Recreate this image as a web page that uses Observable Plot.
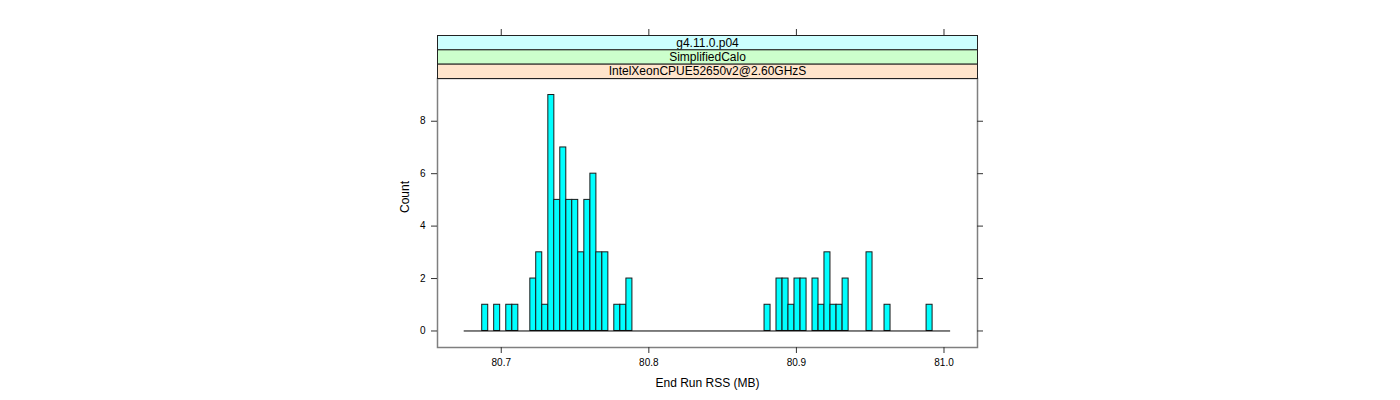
<!DOCTYPE html>
<html>
<head>
<meta charset="utf-8">
<script src="https://cdn.jsdelivr.net/npm/d3@7"></script>
<script src="https://cdn.jsdelivr.net/npm/@observablehq/plot@0.6"></script>
<style>
  html, body { margin: 0; padding: 0; background: #fff; }
  svg { display: block; font-family: "Liberation Sans", Arial, Helvetica, sans-serif; }
</style>
</head>
<body>
<div id="chart"></div>
<script>
// Histogram bins (lower edges, MB) and counts
const binLo = [80.6871, 80.6952, 80.7034, 80.7075, 80.7197, 80.7237, 80.7278, 80.7319, 80.7359, 80.7400,
               80.7441, 80.7481, 80.7522, 80.7563, 80.7604, 80.7644, 80.7685, 80.7766, 80.7807, 80.7848,
               80.8784, 80.8865, 80.8906, 80.8946, 80.8987, 80.9028, 80.9109, 80.9150, 80.9190, 80.9231,
               80.9272, 80.9313, 80.9475, 80.9597, 80.9882];
const counts = [1, 1, 1, 1, 2, 3, 1, 9, 5, 7,
                5, 5, 3, 5, 6, 3, 3, 1, 1, 2,
                1, 2, 2, 1, 2, 2, 2, 1, 3, 1,
                1, 2, 3, 1, 1];
const binWidth = 0.00407;
const breakRange = [80.6749, 81.0045];
const xTicks = [80.7, 80.8, 80.9, 81.0];
const yTicks = [0, 2, 4, 6, 8];
const stripLabels = ["g4.11.0.p04", "SimplifiedCalo", "IntelXeonCPUE52650v2@2.60GHzS"];
const stripColors = ["#CCFFFF", "#CCFFCC", "#FFE5CC"];
const xLabel = "End Run RSS (MB)";
const yLabel = "Count";

const bins = binLo.map((lo, i) => ({x1: lo, x2: lo + binWidth, y: counts[i]}));

const W = 1400, H = 400;
const mL = 437, mR = 423, mT = 78, mB = 53;
const stripTop = 35, stripH = (mT - stripTop) / 3;
const axisGray = "#7f7f7f";

const stripMarks = stripLabels.flatMap((lab, i) => {
  const top = stripTop + i * stripH;
  return [
    Plot.frame({fill: stripColors[i], stroke: "#222", strokeWidth: 1,
      insetTop: top - mT, insetBottom: (H - mB - mT) + (mT - top - stripH)}),
    Plot.text([lab], {frameAnchor: "top", dy: top - mT + stripH / 2, lineAnchor: "middle",
      fontSize: 12, fill: "#000"})
  ];
});

const chart = Plot.plot({
  width: W, height: H,
  marginLeft: mL, marginRight: mR, marginTop: mT, marginBottom: mB,
  style: {fontFamily: '"Liberation Sans", Arial, sans-serif', background: "#fff"},
  x: {domain: [80.6568, 81.0227], axis: null},
  y: {domain: [-0.63, 9.63], axis: null},
  marks: [
    Plot.rectY(bins, {x1: "x1", x2: "x2", y: "y", fill: "#00FFFF", stroke: "#1a1a1a", strokeWidth: 1}),
    Plot.ruleY([0], {x1: breakRange[0], x2: breakRange[1], stroke: "#000", strokeWidth: 1}),
    Plot.frame({stroke: axisGray, strokeWidth: 1.5}),
    ...stripMarks,
    // bottom axis
    Plot.axisX({anchor: "bottom", ticks: xTicks, tickFormat: d3.format(".1f"), tickSize: 6,
      tickPadding: 5, fontSize: 10, label: null, stroke: "#333", fill: "#000"}),
    // top ticks above strips
    Plot.tickX(xTicks, {x: d => d, stroke: "#333", insetTop: 29 - mT, insetBottom: (H - mB) - stripTop}),
    // left axis
    Plot.axisY({anchor: "left", ticks: yTicks, tickFormat: d3.format("d"), tickSize: 6,
      tickPadding: 6, fontSize: 10, label: null, stroke: "#333", fill: "#000"}),
    // right ticks
    Plot.tickY(yTicks, {y: d => d, stroke: "#333", insetLeft: W - mR - mL, insetRight: -6}),
    Plot.text([xLabel], {frameAnchor: "bottom", dy: 36, lineAnchor: "middle", fontSize: 12, fill: "#000"}),
    Plot.text([yLabel], {frameAnchor: "left", dx: -32, rotate: -90, lineAnchor: "middle", fontSize: 12, fill: "#000"})
  ]
});
document.getElementById("chart").appendChild(chart);
</script>
</body>
</html>
